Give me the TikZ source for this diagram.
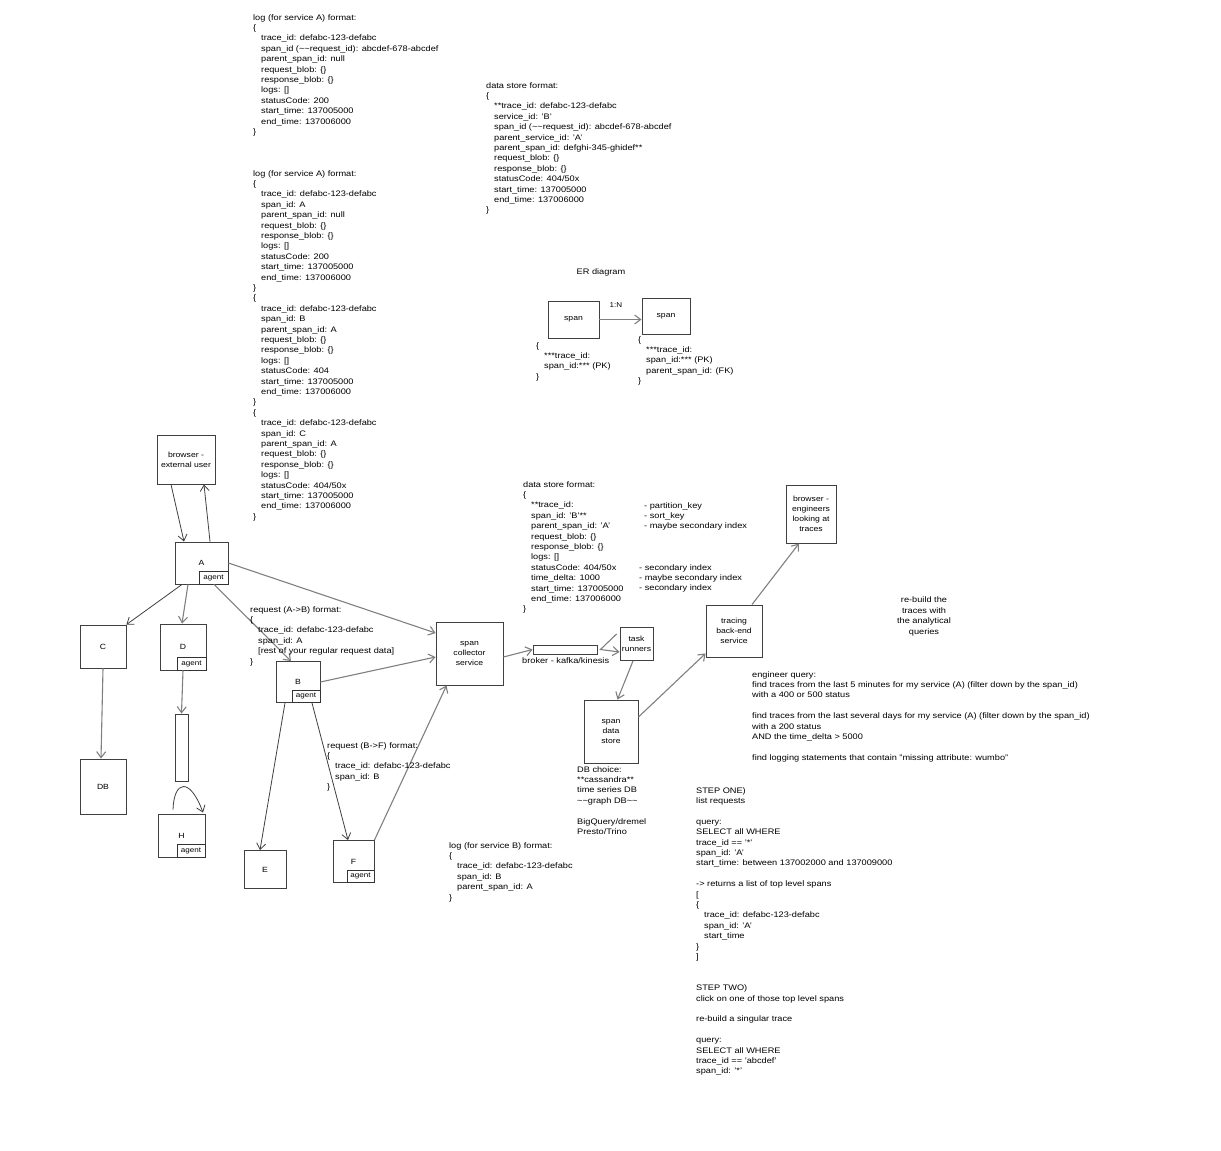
\documentclass[tikz,border=0pt]{standalone}
\usepackage{fontspec}
\setmainfont{Liberation Sans}[FakeStretch=1.15]
\usetikzlibrary{arrows.meta}
\newcommand\myind{\hspace*{8pt}}
\begin{document}
\begin{tikzpicture}[x=1pt,y=-1pt,
  box/.style={draw=black!75,line width=0.9pt,inner sep=1pt,align=center,font=\fontsize{7.5}{9.8}\selectfont},
  agentbox/.style={draw=black!80,line width=0.9pt,inner sep=0pt,anchor=south east,minimum width=#1,minimum height=12.5pt,font=\fontsize{7}{8}\selectfont},
  txt/.style={anchor=north west,inner sep=0pt,align=left,font=\fontsize{8}{10.4}\selectfont},
  ctxt/.style={inner sep=0pt,align=center,font=\fontsize{8}{10.4}\selectfont},
  conn/.style={draw=black!75,line width=0.8pt,-{Straight Barb[length=6pt,width=9pt]}},
  conng/.style={draw=black!50,line width=1.1pt,-{Straight Barb[length=6pt,width=9pt]}},
]
\path[use as bounding box, fill=white] (0,0) rectangle (1221,1151);

% ---------- text blocks ----------
\node[txt] (t1) at (253,12.7) {\strut log (for service A) format:\\
\{\\
\myind trace\_id: defabc-123-defabc\\
\myind span\_id (\textasciitilde\textasciitilde request\_id): abcdef-678-abcdef\\
\myind parent\_span\_id: null\\
\myind request\_blob: \{\}\\
\myind response\_blob: \{\}\\
\myind logs: []\\
\myind statusCode: 200\\
\myind start\_time: 137005000\\
\myind end\_time: 137006000\\
\}};

\node[txt] (t2) at (253,168.7) {\strut log (for service A) format:\\
\{\\
\myind trace\_id: defabc-123-defabc\\
\myind span\_id: A\\
\myind parent\_span\_id: null\\
\myind request\_blob: \{\}\\
\myind response\_blob: \{\}\\
\myind logs: []\\
\myind statusCode: 200\\
\myind start\_time: 137005000\\
\myind end\_time: 137006000\\
\}\\
\{\\
\myind trace\_id: defabc-123-defabc\\
\myind span\_id: B\\
\myind parent\_span\_id: A\\
\myind request\_blob: \{\}\\
\myind response\_blob: \{\}\\
\myind logs: []\\
\myind statusCode: 404\\
\myind start\_time: 137005000\\
\myind end\_time: 137006000\\
\}\\
\{\\
\myind trace\_id: defabc-123-defabc\\
\myind span\_id: C\\
\myind parent\_span\_id: A\\
\myind request\_blob: \{\}\\
\myind response\_blob: \{\}\\
\myind logs: []\\
\myind statusCode: 404/50x\\
\myind start\_time: 137005000\\
\myind end\_time: 137006000\\
\}};

\node[txt] (t3) at (486,80.7) {\strut data store format:\\
\{\\
\myind **trace\_id: defabc-123-defabc\\
\myind service\_id: 'B'\\
\myind span\_id (\textasciitilde\textasciitilde request\_id): abcdef-678-abcdef\\
\myind parent\_service\_id: 'A'\\
\myind parent\_span\_id: defghi-345-ghidef**\\
\myind request\_blob: \{\}\\
\myind response\_blob: \{\}\\
\myind statusCode: 404/50x\\
\myind start\_time: 137005000\\
\myind end\_time: 137006000\\
\}};

% ---------- ER diagram ----------
\node[ctxt] (erl) at (601,272) {ER diagram};
\node[box,minimum width=51pt,minimum height=37pt] (E1) at (573.5,319.5) {span};
\node[box,minimum width=48pt,minimum height=36pt] (E2) at (666,316) {span};
\draw[conng] (E1.east) -- ([yshift=-3.5pt]E2.west);
\node[ctxt,font=\fontsize{7}{9}\selectfont] (oneN) at (616,305) {1:N};
\node[txt] (t4) at (536,340.7) {\strut\{\\
\myind ***trace\_id:\\
\myind span\_id:*** (PK)\\
\}};
\node[txt] (t5) at (638,334.7) {\strut\{\\
\myind ***trace\_id:\\
\myind span\_id:*** (PK)\\
\myind parent\_span\_id: (FK)\\
\}};

% ---------- services ----------
\node[box,minimum width=58pt,minimum height=49pt] (bu) at (186,459.5) {browser -\\external user};
\node[box,minimum width=53pt,minimum height=42pt] (A) at (201.5,563) {A};
\node[agentbox=29pt] (Aag) at (A.south east) {agent};
\node[box,minimum width=46pt,minimum height=43pt] (C) at (103,646.5) {C};
\node[box,minimum width=46pt,minimum height=46pt] (D) at (183,647) {D};
\node[agentbox=29pt] (Dag) at (D.south east) {agent};
\node[box,minimum width=46pt,minimum height=55pt] (DB) at (103,786.5) {DB};
\node[box,minimum width=13pt,minimum height=67pt] (Q) at (181.5,747.5) {};
\node[box,minimum width=47pt,minimum height=43pt] (H) at (181.5,835.5) {H};
\node[agentbox=28pt] (Hag) at (H.south east) {agent};
\node[box,minimum width=44pt,minimum height=41pt] (B) at (298,682) {B};
\node[agentbox=28pt] (Bag) at (B.south east) {agent};
\node[box,minimum width=42pt,minimum height=38pt] (E) at (265,869.5) {E};
\node[box,minimum width=41pt,minimum height=42pt] (F) at (353.5,861.5) {F};
\node[agentbox=27pt] (Fag) at (F.south east) {agent};
\node[box,minimum width=67pt,minimum height=63pt] (SC) at (469.5,653.5) {span\\collector\\service};
\node[box,minimum width=64pt,minimum height=9pt] (BR) at (565,649.5) {};
\node[box,minimum width=33pt,minimum height=33pt] (TR) at (636.5,644) {task\\runners};
\node[box,minimum width=54pt,minimum height=63pt] (SDS) at (611,731.5) {span\\data\\store};
\node[box,minimum width=56pt,minimum height=52pt] (TB) at (734,631) {tracing\\back-end\\service};
\node[box,minimum width=50pt,minimum height=58pt] (BE) at (811,514) {browser -\\engineers\\looking at\\traces};

% ---------- connectors ----------
\draw[conn] ([xshift=-15pt]bu.south) -- ([xshift=-17.5pt]A.north);
\draw[conn] ([xshift=8.5pt]A.north) -- ([xshift=18pt]bu.south);
\draw[conn] ([xshift=-19.5pt]A.south) -- (C.north east);
\draw[conng] ([xshift=-13.5pt]A.south) -- ([xshift=-1pt]D.north);
\draw[conng] ([xshift=12.5pt]A.south) -- ([xshift=-7pt]B.north);
\draw[conng] (A.east) -- ([yshift=20.5pt]SC.west);
\draw[conng] (C.south) -- ([xshift=-2pt]DB.north);
\draw[conng] (D.south) -- (Q.north);
\draw[conn] ([xshift=-8.5pt,yshift=4pt]H.north) .. controls (174,780) and (190,777) .. ([xshift=21.5pt,yshift=1pt]H.north);
\draw[conng] (B.east) -- ([yshift=-3.5pt]SC.west);
\draw[conn] ([xshift=-13pt]B.south) -- ([xshift=-5pt]E.north);
\draw[conn] ([xshift=14pt]B.south) -- ([xshift=-5.5pt]F.north);
\draw[conng] (F.north east) -- ([xshift=11pt]SC.south west);
\draw[conng] ([yshift=-3.5pt]SC.east) -- (BR.west);
\draw[conng] ([xshift=-3pt,yshift=10pt]TR.west) -- ([xshift=3pt]BR.east) -- ([yshift=-8pt]TR.west);
\draw[conng] ([xshift=-3.5pt]TR.south) -- ([xshift=6.5pt]SDS.north);
\draw[conng] ([yshift=14.5pt]SDS.east) -- ([yshift=4pt]TB.south west);
\draw[conng] ([xshift=18pt]TB.north) -- ([xshift=-12pt]BE.south);

% ---------- annotations ----------
\node[txt] (t6) at (250,604.7) {\strut request (A->B) format:\\
\{\\
\myind trace\_id: defabc-123-defabc\\
\myind span\_id: A\\
\myind {[}rest of your regular request data]\\
\}};
\node[txt] (t7) at (327,740.7) {\strut request (B->F) format:\\
\{\\
\myind trace\_id: defabc-123-defabc\\
\myind span\_id: B\\
\}};
\node[txt] (t8) at (449,840.7) {\strut log (for service B) format:\\
\{\\
\myind trace\_id: defabc-123-defabc\\
\myind span\_id: B\\
\myind parent\_span\_id: A\\
\}};
\node[txt] (t9) at (577,764.7) {\strut DB choice:\\
**cassandra**\\
time series DB\\
\textasciitilde\textasciitilde graph DB\textasciitilde\textasciitilde\\[10.4pt]
BigQuery/dremel\\
Presto/Trino};
\node[ctxt,anchor=west] (bl) at (522,661) {broker - kafka/kinesis};
\node[txt] (t10) at (523,479.7) {\strut data store format:\\
\{\\
\myind **trace\_id:\\
\myind span\_id: 'B'**\\
\myind parent\_span\_id: 'A'\\
\myind request\_blob: \{\}\\
\myind response\_blob: \{\}\\
\myind logs: []\\
\myind statusCode: 404/50x\\
\myind time\_delta: 1000\\
\myind start\_time: 137005000\\
\myind end\_time: 137006000\\
\}};
\node[txt] (t11) at (644,500.7) {\strut - partition\_key\\
- sort\_key\\
- maybe secondary index};
\node[txt] (t12) at (639,562.7) {\strut - secondary index\\
- maybe secondary index\\
- secondary index};
\node[ctxt] (t14) at (924,616.5) {re-build the\\traces with\\the analytical\\queries};
\node[txt] (t13) at (752,669.7) {\strut engineer query:\\
find traces from the last 5 minutes for my service (A) (filter down by the span\_id)\\
with a 400 or 500 status\\[10.4pt]
find traces from the last several days for my service (A) (filter down by the span\_id)\\
with a 200 status\\
AND the time\_delta > 5000\\[10.4pt]
find logging statements that contain "missing attribute: wumbo"};
\node[txt] (t15) at (696,785.7) {\strut STEP ONE)\\
list requests\\[10.4pt]
query:\\
SELECT all WHERE\\
trace\_id == '*'\\
span\_id: 'A'\\
start\_time: between 137002000 and 137009000\\[10.4pt]
-> returns a list of top level spans\\
{[}\\
\{\\
\myind trace\_id: defabc-123-defabc\\
\myind span\_id: 'A'\\
\myind start\_time\\
\}\\
]\\[20.8pt]
STEP TWO)\\
click on one of those top level spans\\[10.4pt]
re-build a singular trace\\[10.4pt]
query:\\
SELECT all WHERE\\
trace\_id == 'abcdef'\\
span\_id: '*'};
\end{tikzpicture}
\end{document}
